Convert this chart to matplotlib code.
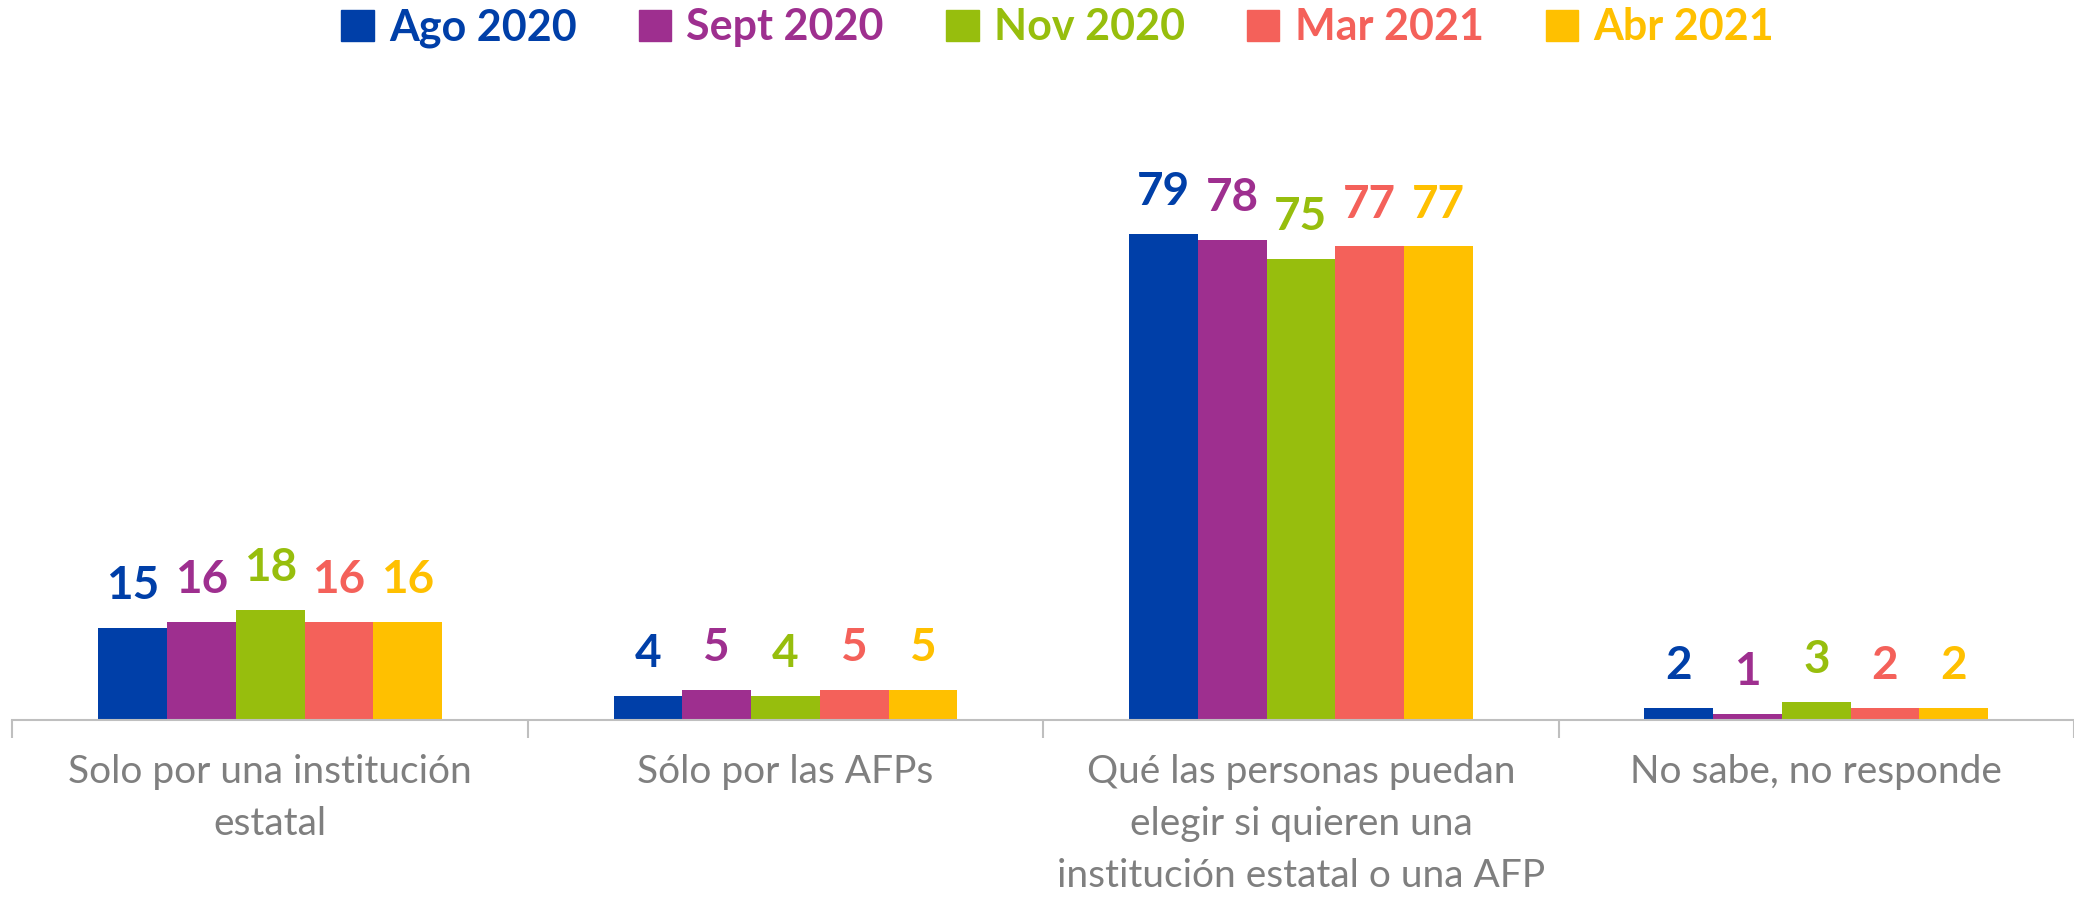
import matplotlib.pyplot as plt
from matplotlib.patches import Patch
import numpy as np

categorias = ["Solo por una institución\nestatal",
              "Sólo por las AFPs",
              "Qué las personas puedan\nelegir si quieren una\ninstitución estatal o una AFP",
              "No sabe, no responde"]
series = ["Ago 2020", "Sept 2020", "Nov 2020", "Mar 2021", "Abr 2021"]
ago_2020 = [15, 4, 79, 2]
sept_2020 = [16, 5, 78, 1]
nov_2020 = [18, 4, 75, 3]
mar_2021 = [16, 5, 77, 2]
abr_2021 = [16, 5, 77, 2]
valores = [ago_2020, sept_2020, nov_2020, mar_2021, abr_2021]
colores = ["#003FA8", "#9E2F8F", "#97BE0D", "#F4615A", "#FFC000"]

plt.rcParams['font.family'] = ['Lato', 'DejaVu Sans']

fig = plt.figure(figsize=(20.74, 8.97), dpi=100)
ax = fig.add_axes([0.006, 0.197, 0.994, 0.686])

x = np.arange(len(categorias))
ancho = 0.667 / len(series)

for i, (nombre, vals, col) in enumerate(zip(series, valores, colores)):
    pos = x - 0.667 / 2 + ancho * (i + 0.5)
    barras = ax.bar(pos, vals, width=ancho, color=col, label=nombre)
    for b, v in zip(barras, vals):
        ax.annotate(str(v), (b.get_x() + b.get_width() / 2, v),
                    xytext=(0, 15), textcoords="offset points",
                    ha="center", va="bottom", fontsize=33,
                    fontweight="bold", color=col)

ax.set_xlim(-0.5, 3.5)
ax.set_ylim(0, 100)
ax.set_yticks([])
for s in ["top", "right", "left"]:
    ax.spines[s].set_visible(False)
ax.spines["bottom"].set_color("#BFBFBF")
ax.spines["bottom"].set_linewidth(1.5)

# ticks en los bordes de las categorías
ax.set_xticks(np.arange(-0.5, 4, 1))
ax.set_xticklabels([])
ax.tick_params(axis="x", length=13, width=1.5, color="#BFBFBF")
ax.set_xticks(x, minor=True)
ax.set_xticklabels(categorias, minor=True, fontsize=28, color="#7F7F7F",
                   linespacing=1.55, va="top")
ax.tick_params(axis="x", which="minor", length=0, pad=24)

handles = [Patch(color=c) for c in colores]
leg = fig.legend(handles, series, loc="upper center", ncol=5,
                 bbox_to_anchor=(0.51, 1.035), frameon=False,
                 prop={"size": 31, "weight": "bold"},
                 handlelength=0.75, handleheight=0.75, handletextpad=0.35,
                 columnspacing=1.45)
for t, c in zip(leg.get_texts(), colores):
    t.set_color(c)

fig.savefig("out.png", dpi=100)
